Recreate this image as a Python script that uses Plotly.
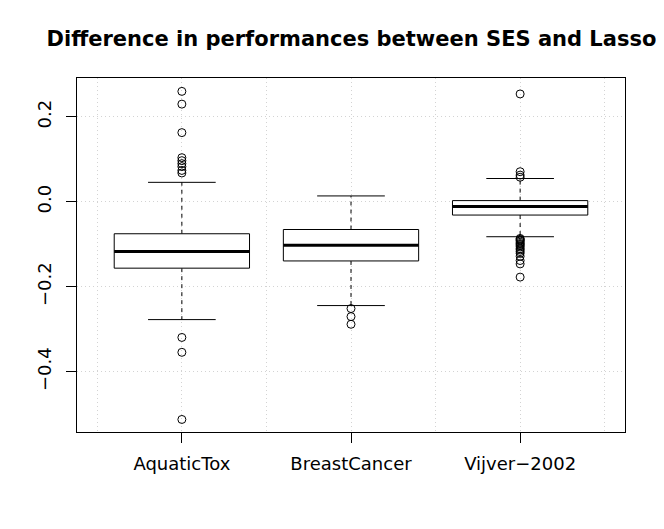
import plotly.graph_objects as go

# boxplot stats (R boxplot)
datasets = ["AquaticTox", "BreastCancer", "Vijver\u22122002"]
q1 = [-0.156, -0.139, -0.031]
median = [-0.117, -0.102, -0.011]
q3 = [-0.075, -0.065, 0.003]
lower_whisker = [-0.277, -0.244, -0.082]
upper_whisker = [0.046, 0.014, 0.055]

outliers = [
    [0.260, 0.230, 0.163, 0.104, 0.097, 0.090, 0.083, 0.074, 0.068,
     -0.319, -0.354, -0.512],
    [-0.251, -0.270, -0.288],
    [0.254, 0.071, 0.063, 0.058,
     -0.086, -0.088, -0.090, -0.092, -0.095, -0.098, -0.100, -0.103,
     -0.106, -0.110, -0.113, -0.117, -0.121, -0.128, -0.138, -0.146, -0.177],
]

title = "Difference in performances between SES and Lasso"
font = "DejaVu Sans, sans-serif"
bw = 0.4   # half box width
cw = 0.2   # half cap width

fig = go.Figure()

box_x, box_y = [], []
med_x, med_y = [], []
wh_x, wh_y = [], []
cap_x, cap_y = [], []
out_x, out_y = [], []
for i in range(len(datasets)):
    p = i + 1
    box_x += [p - bw, p + bw, p + bw, p - bw, p - bw, None]
    box_y += [q1[i], q1[i], q3[i], q3[i], q1[i], None]
    med_x += [p - bw, p + bw, None]
    med_y += [median[i], median[i], None]
    wh_x += [p, p, None, p, p, None]
    wh_y += [q3[i], upper_whisker[i], None, q1[i], lower_whisker[i], None]
    cap_x += [p - cw, p + cw, None, p - cw, p + cw, None]
    cap_y += [upper_whisker[i], upper_whisker[i], None,
              lower_whisker[i], lower_whisker[i], None]
    out_x += [p] * len(outliers[i])
    out_y += outliers[i]

fig.add_trace(go.Scatter(x=wh_x, y=wh_y, mode="lines",
                         line=dict(color="black", width=1, dash="4px,4px")))
fig.add_trace(go.Scatter(x=cap_x, y=cap_y, mode="lines",
                         line=dict(color="black", width=1)))
fig.add_trace(go.Scatter(x=box_x, y=box_y, mode="lines", fill="toself",
                         fillcolor="white", line=dict(color="black", width=1)))
fig.add_trace(go.Scatter(x=med_x, y=med_y, mode="lines",
                         line=dict(color="black", width=3)))
fig.add_trace(go.Scatter(x=out_x, y=out_y, mode="markers",
                         marker=dict(symbol="circle-open", size=8, color="black",
                                     line=dict(width=1))))

# page body has an 8px margin, so the figure is 8px smaller each way
fig.update_layout(
    width=656, height=521,
    margin=dict(l=69, r=39, t=70, b=97),
    paper_bgcolor="white", plot_bgcolor="white",
    showlegend=False,
    font=dict(family=font, color="black", size=18),
    title=dict(text="<b>" + title + "</b>", x=0.5236, xanchor="center",
               y=0.942, yanchor="middle", font=dict(size=21)),
)
grid = dict(showgrid=True, gridcolor="#d3d3d3", griddash="1px,3px", gridwidth=1)
fig.update_xaxes(
    range=[0.38, 3.62], tickvals=[1, 2, 3], ticktext=datasets,
    ticks="outside", ticklen=10, tickcolor="black", ticklabelstandoff=5,
    showline=True, linecolor="black", linewidth=1, mirror=True,
    minor=dict(tickvals=[0.5, 1.5, 2.5, 3.5], ticklen=0, **grid),
    zeroline=False, **grid,
)
fig.update_yaxes(
    range=[-0.5415, 0.2915], tickvals=[-0.4, -0.2, 0.0, 0.2], tickformat=".1f",
    tickangle=-90, ticks="outside", ticklen=10, tickcolor="black",
    ticklabelstandoff=8,
    showline=True, linecolor="black", linewidth=1, mirror=True,
    zeroline=False, **grid,
)

fig.write_html("out.html")
